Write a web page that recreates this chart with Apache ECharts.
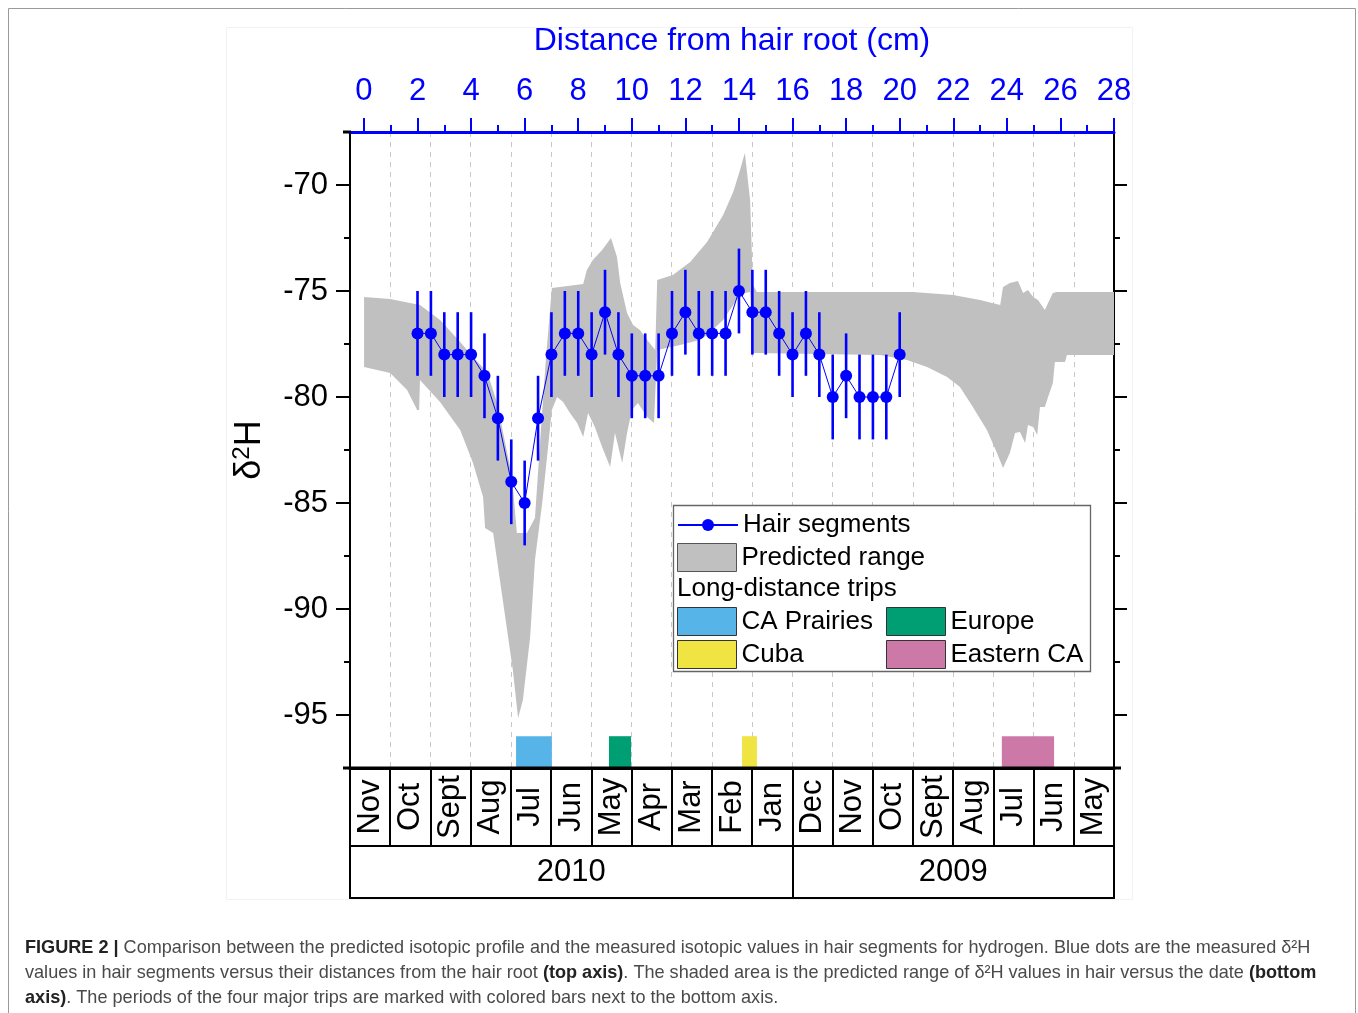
<!DOCTYPE html>
<html>
<head>
<meta charset="utf-8">
<title>Hair segment δ2H profile</title>
<script src="https://cdn.jsdelivr.net/npm/echarts@6/dist/echarts.min.js"></script>
<style>
  html, body { margin: 0; padding: 0; background: #fff; }
  #chart { width: 1358px; height: 1013px; }
</style>
</head>
<body>
<div id="chart"></div>
<script>
// Measured hair segments: distance from root (cm), δ2H and uncertainty
const distances = [2, 2.5, 3, 3.5, 4, 4.5, 5, 5.5, 6, 6.5, 7, 7.5, 8, 8.5, 9, 9.5, 10, 10.5, 11,
  11.5, 12, 12.5, 13, 13.5, 14, 14.5, 15, 15.5, 16, 16.5, 17, 17.5, 18, 18.5, 19, 19.5, 20];
const d2H = [-77, -77, -78, -78, -78, -79, -81, -84, -85, -81, -78, -77, -77, -78, -76, -78, -79, -79, -79,
  -77, -76, -77, -77, -77, -75, -76, -76, -77, -78, -77, -78, -80, -79, -80, -80, -80, -78];
const errors = [2, 2, 2, 2, 2, 2, 2, 2, 2, 2, 2, 2, 2, 2, 2, 2, 2, 2, 2,
  2, 2, 2, 2, 2, 2, 2, 2, 2, 2, 2, 2, 2, 2, 2, 2, 2, 2];

// Predicted range (months back from end of Nov 2010)
const upperX = [0.35, 1.0, 1.74, 2.24, 2.74, 3.06, 3.41, 3.66, 3.86, 4.03, 4.15, 4.40, 4.60, 4.73, 4.87, 5.02,
  5.80, 5.89, 6.04, 6.27, 6.49, 6.64, 6.72, 6.89, 7.04, 7.21, 7.39, 7.59, 7.64, 8.03, 8.46, 8.88, 9.28, 9.53,
  9.70, 9.82, 9.95, 10.02, 10.12, 14.0, 15.0, 15.67, 16.17, 16.24, 16.41, 16.61, 16.74, 16.86, 16.99, 17.11,
  17.28, 17.36, 17.48, 17.58, 19.0];
const upperY = [-75.28, -75.38, -75.66, -76.37, -77.41, -78.11, -78.82, -80.28, -82.17, -83.77, -86.42, -86.42,
  -85.71, -82.03, -78.25, -74.86, -74.67, -74.01, -73.54, -73.07, -72.5, -73.4, -74.62, -76.04, -76.6, -76.84,
  -77.31, -77.78, -74.48, -74.25, -73.63, -72.69, -71.42, -70.33, -69.29, -68.49, -70.71, -74.72, -75.05,
  -75.05, -75.19, -75.42, -75.66, -74.81, -74.62, -74.53, -75.09, -74.95, -75.28, -75.42, -75.9, -75.57,
  -75.09, -75.05, -75.05];
const lowerX = [0.35, 1.0, 1.42, 1.67, 1.72, 1.74, 2.24, 2.74, 3.06, 3.31, 3.36, 3.56, 3.81, 4.05, 4.18, 4.30,
  4.48, 4.60, 4.78, 4.90, 5.02, 5.15, 5.30, 5.47, 5.65, 5.80, 5.92, 6.09, 6.27, 6.47, 6.59, 6.77, 6.89, 7.01,
  7.16, 7.39, 7.56, 7.64, 8.21, 8.70, 8.88, 9.28, 9.53, 9.70, 9.95, 10.02, 13.18, 13.85, 14.35, 14.85, 15.17,
  15.49, 15.84, 16.09, 16.24, 16.41, 16.54, 16.66, 16.79, 16.86, 16.99, 17.09, 17.16, 17.28, 17.36, 17.48,
  17.53, 17.78, 17.83, 19.0];
const lowerY = [-78.58, -78.87, -79.67, -80.61, -80.61, -79.2, -80.24, -81.56, -83.11, -84.72, -86.18, -86.42,
  -89.72, -92.88, -95.14, -94.29, -91.32, -87.69, -85.0, -82.83, -80.61, -80.0, -80.24, -80.75, -81.23, -81.89,
  -80.75, -81.42, -82.36, -83.3, -81.7, -83.11, -81.7, -80.61, -80.28, -80.94, -81.23, -77.78, -77.55, -77.31,
  -77.08, -76.37, -75.66, -75.14, -75.05, -77.92, -78.02, -78.25, -78.58, -79.06, -79.53, -80.47, -81.56,
  -82.64, -83.35, -82.64, -81.7, -81.65, -82.17, -81.32, -81.42, -81.79, -80.47, -80.47, -80.0, -79.34, -78.35,
  -78.35, -78.02, -78.02];

// Long-distance trips (same month scale)
const tripNames = ['CA Prairies', 'Europe', 'Cuba', 'Eastern CA'];
const tripStart = [4.13, 6.44, 9.75, 16.21];
const tripEnd = [5.02, 6.99, 10.12, 17.51];
const tripColors = ['#56b4e9', '#009e73', '#f0e442', '#cc79a7'];

// Date axis labels
const months = ['Nov', 'Oct', 'Sept', 'Aug', 'Jul', 'Jun', 'May', 'Apr', 'Mar', 'Feb', 'Jan',
  'Dec', 'Nov', 'Oct', 'Sept', 'Aug', 'Jul', 'Jun', 'May'];
const years = ['2010', '2009'];
const yearCenters = [5.5, 15];
const yearBreaks = [11];

// Tick values
const cmMajor = [0, 2, 4, 6, 8, 10, 12, 14, 16, 18, 20, 22, 24, 26, 28];
const cmMinor = [1, 3, 5, 7, 9, 11, 13, 15, 17, 19, 21, 23, 25, 27];
const yMajor = [-95, -90, -85, -80, -75, -70];
const yMinor = [-92.5, -87.5, -82.5, -77.5, -72.5];

const FONT = '"Liberation Sans", Arial, sans-serif';
const BLUE = '#0000ff';
const Y_MIN = -97.5, Y_MAX = -67.5;
const CM_MIN = -0.52, CM_MAX = 28;

const chart = echarts.init(document.getElementById('chart'), null, { renderer: 'canvas' });

const plotGrid = { left: 350, top: 132, width: 764, height: 636, outerBoundsMode: 'none' };
const monthGrid = { left: 350, top: 768, width: 764, height: 78, outerBoundsMode: 'none' };
const yearGrid = { left: 350, top: 846, width: 764, height: 52, outerBoundsMode: 'none' };

function hiddenParts() {
  return { axisLabel: { show: false }, axisTick: { show: false }, splitLine: { show: false } };
}

const xAxes = [
  // top distance axis: line, major ticks, labels and name
  {
    gridIndex: 0, type: 'value', position: 'top', min: CM_MIN, max: CM_MAX,
    name: 'Distance from hair root (cm)', nameLocation: 'middle', nameGap: 75,
    nameTextStyle: { color: BLUE, fontSize: 32, fontFamily: FONT },
    axisLine: { show: true, onZero: false, lineStyle: { color: BLUE, width: 3 } },
    axisTick: { show: true, length: 14, customValues: cmMajor, lineStyle: { color: BLUE, width: 2 } },
    axisLabel: { show: true, customValues: cmMajor, color: BLUE, fontSize: 31, fontFamily: FONT, margin: 25 },
    splitLine: { show: false }
  },
  // top distance axis: minor ticks
  {
    gridIndex: 0, type: 'value', position: 'top', min: CM_MIN, max: CM_MAX,
    axisLine: { show: false, onZero: false },
    axisTick: { show: true, length: 7, customValues: cmMinor, lineStyle: { color: BLUE, width: 2 } },
    axisLabel: { show: false }, splitLine: { show: false }
  },
  // month scale inside the plot (bottom line + dashed month boundaries)
  {
    gridIndex: 0, type: 'value', position: 'bottom', min: 0, max: 19, interval: 1,
    axisLine: { show: true, onZero: false, lineStyle: { color: '#000', width: 3 } },
    axisTick: { show: false }, axisLabel: { show: false },
    splitLine: { show: true, lineStyle: { color: '#c8c8c8', width: 1, type: [5, 5] } }
  },
  // month cells
  {
    gridIndex: 1, type: 'value', position: 'bottom', min: 0, max: 19, interval: 1,
    axisLine: { show: true, onZero: false, lineStyle: { color: '#000', width: 2 } },
    axisTick: { show: false }, axisLabel: { show: false },
    splitLine: { show: true, lineStyle: { color: '#000', width: 2 } }
  },
  // year cells
  {
    gridIndex: 2, type: 'value', position: 'bottom', min: 0, max: 19,
    axisLine: { show: true, onZero: false, lineStyle: { color: '#000', width: 2 } },
    ...hiddenParts()
  }
];

const yAxes = [
  // left δ2H axis with labels
  {
    gridIndex: 0, type: 'value', position: 'left', min: Y_MIN, max: Y_MAX,
    name: '{d|δ}{s|2}{d|H}', nameLocation: 'middle', nameGap: 80, nameRotate: 90,
    nameTextStyle: {
      fontFamily: FONT,
      rich: {
        d: { fontSize: 36, fontFamily: FONT, color: '#000', lineHeight: 40 },
        s: { fontSize: 24, fontFamily: FONT, color: '#000', verticalAlign: 'top', lineHeight: 40, padding: [0, 0, 16, 0] }
      }
    },
    axisLine: { show: true, onZero: false, lineStyle: { color: '#000', width: 2 } },
    axisTick: { show: true, length: 14, customValues: yMajor, lineStyle: { color: '#000', width: 2 } },
    axisLabel: { show: true, customValues: yMajor, color: '#000', fontSize: 31, fontFamily: FONT, margin: 22 },
    splitLine: { show: false }
  },
  // left minor ticks
  {
    gridIndex: 0, type: 'value', position: 'left', min: Y_MIN, max: Y_MAX,
    axisLine: { show: false, onZero: false },
    axisTick: { show: true, length: 6, customValues: yMinor, lineStyle: { color: '#000', width: 2 } },
    axisLabel: { show: false }, splitLine: { show: false }
  },
  // right frame with major ticks
  {
    gridIndex: 0, type: 'value', position: 'right', min: Y_MIN, max: Y_MAX,
    axisLine: { show: true, onZero: false, lineStyle: { color: '#000', width: 2 } },
    axisTick: { show: true, length: 13, customValues: yMajor, lineStyle: { color: '#000', width: 2 } },
    axisLabel: { show: false }, splitLine: { show: false }
  },
  // right minor ticks
  {
    gridIndex: 0, type: 'value', position: 'right', min: Y_MIN, max: Y_MAX,
    axisLine: { show: false, onZero: false },
    axisTick: { show: true, length: 6, customValues: yMinor, lineStyle: { color: '#000', width: 2 } },
    axisLabel: { show: false }, splitLine: { show: false }
  },
  // month cells: left and right borders
  {
    gridIndex: 1, type: 'value', position: 'left', min: 0, max: 1,
    axisLine: { show: true, onZero: false, lineStyle: { color: '#000', width: 2 } }, ...hiddenParts()
  },
  {
    gridIndex: 1, type: 'value', position: 'right', min: 0, max: 1,
    axisLine: { show: true, onZero: false, lineStyle: { color: '#000', width: 2 } }, ...hiddenParts()
  },
  // year cells: left and right borders
  {
    gridIndex: 2, type: 'value', position: 'left', min: 0, max: 1,
    axisLine: { show: true, onZero: false, lineStyle: { color: '#000', width: 2 } }, ...hiddenParts()
  },
  {
    gridIndex: 2, type: 'value', position: 'right', min: 0, max: 1,
    axisLine: { show: true, onZero: false, lineStyle: { color: '#000', width: 2 } }, ...hiddenParts()
  }
];

const series = [];

// Predicted range as a filled polygon on the month scale
series.push({
  name: 'Predicted range',
  type: 'custom',
  xAxisIndex: 2, yAxisIndex: 0,
  silent: true,
  z: 1,
  itemStyle: { color: '#c0c0c0' },
  data: [[upperX[0], upperY[0]]],
  renderItem: function (params, api) {
    const pts = [];
    for (let i = 0; i < upperX.length; i++) pts.push(api.coord([upperX[i], upperY[i]]));
    for (let i = lowerX.length - 1; i >= 0; i--) pts.push(api.coord([lowerX[i], lowerY[i]]));
    return { type: 'polygon', shape: { points: pts }, style: { fill: '#c0c0c0' } };
  }
});

// Trip periods as bars along the bottom of the plot
tripNames.forEach(function (name, k) {
  series.push({
    name: name,
    type: 'custom',
    xAxisIndex: 2, yAxisIndex: 0,
    silent: true,
    z: 2,
    itemStyle: { color: tripColors[k] },
    encode: { x: [0, 1], y: [2, 3] },
    data: [[tripStart[k], tripEnd[k], Y_MIN, -96]],
    renderItem: function (params, api) {
      const p0 = api.coord([api.value(0), api.value(3)]);
      const p1 = api.coord([api.value(1), api.value(2)]);
      return {
        type: 'rect',
        shape: { x: p0[0], y: p0[1], width: p1[0] - p0[0], height: p1[1] - p0[1] },
        style: { fill: tripColors[k] }
      };
    }
  });
});

// Error bars of the measured segments
series.push({
  name: 'Uncertainty',
  type: 'custom',
  xAxisIndex: 0, yAxisIndex: 0,
  silent: true,
  z: 3,
  encode: { x: 0, y: 1 },
  data: distances.map(function (d, i) { return [d, d2H[i], errors[i]]; }),
  renderItem: function (params, api) {
    const x = api.value(0), y = api.value(1), e = api.value(2);
    const a = api.coord([x, y + e]);
    const b = api.coord([x, y - e]);
    return {
      type: 'line',
      shape: { x1: a[0], y1: a[1], x2: b[0], y2: b[1] },
      style: { stroke: BLUE, lineWidth: 2.6 }
    };
  }
});

// Measured segments
series.push({
  name: 'Hair segments',
  type: 'line',
  xAxisIndex: 0, yAxisIndex: 0,
  z: 4,
  symbol: 'circle',
  symbolSize: 12,
  itemStyle: { color: BLUE },
  lineStyle: { color: BLUE, width: 1 },
  data: distances.map(function (d, i) { return [d, d2H[i]]; })
});

const cellLabel = {
  show: true, position: 'inside', formatter: '{b}', opacity: 1,
  color: '#000', fontSize: 31, fontFamily: FONT, align: 'center', verticalAlign: 'middle',
  textBorderWidth: 0
};

// Month names in their cells
series.push({
  name: 'Months',
  type: 'scatter',
  xAxisIndex: 3, yAxisIndex: 4,
  silent: true,
  symbolSize: 0,
  itemStyle: { opacity: 1, color: '#000' },
  data: months.map(function (m, i) { return { name: m, value: [i + 0.5, 0.5] }; }),
  label: Object.assign({}, cellLabel, { rotate: 90 })
});

// Year names with the divider between them
series.push({
  name: 'Years',
  type: 'scatter',
  xAxisIndex: 4, yAxisIndex: 6,
  silent: true,
  symbolSize: 0,
  itemStyle: { opacity: 1, color: '#000' },
  data: years.map(function (y, i) { return { name: y, value: [yearCenters[i], 0.5] }; }),
  label: cellLabel,
  markLine: {
    silent: true, symbol: 'none', animation: false,
    label: { show: false },
    lineStyle: { color: '#000', width: 2, type: 'solid', opacity: 1 },
    data: yearBreaks.map(function (v) { return { xAxis: v }; })
  }
});

const legendText = { color: '#000', fontSize: 26, fontFamily: FONT, lineHeight: 28 };
const iconBorder = { borderColor: '#333', borderWidth: 1 };

const option = {
  animation: false,
  backgroundColor: '#fff',
  textStyle: { fontFamily: FONT },
  grid: [plotGrid, monthGrid, yearGrid],
  xAxis: xAxes,
  yAxis: yAxes,
  legend: [
    {
      data: ['Hair segments'], left: 677, top: 511, orient: 'vertical', padding: 0,
      itemWidth: 60, itemHeight: 15, itemGap: 4, textStyle: legendText, selectedMode: false
    },
    {
      data: [{ name: 'Predicted range', icon: 'rect', itemStyle: { borderColor: '#555', borderWidth: 1 } }],
      left: 677, top: 543, orient: 'vertical', padding: 0,
      itemWidth: 59, itemHeight: 28, itemGap: 4, textStyle: legendText, selectedMode: false
    },
    {
      data: [
        { name: 'CA Prairies', icon: 'rect', itemStyle: iconBorder },
        { name: 'Cuba', icon: 'rect', itemStyle: iconBorder }
      ],
      left: 677, top: 607, orient: 'vertical', padding: 0,
      itemWidth: 59, itemHeight: 28, itemGap: 4, textStyle: legendText, selectedMode: false
    },
    {
      data: [
        { name: 'Europe', icon: 'rect', itemStyle: iconBorder },
        { name: 'Eastern CA', icon: 'rect', itemStyle: iconBorder }
      ],
      left: 886, top: 607, orient: 'vertical', padding: 0,
      itemWidth: 59, itemHeight: 28, itemGap: 4, textStyle: legendText, selectedMode: false
    }
  ],
  graphic: [
    // outer figure frame and faint chart panel
    { type: 'rect', z: 0, silent: true, shape: { x: 8.5, y: 8.5, width: 1347, height: 1030 },
      style: { fill: 'none', stroke: '#9a9a9a', lineWidth: 1 } },
    { type: 'rect', z: 0, silent: true, shape: { x: 226.5, y: 27.5, width: 906, height: 872 },
      style: { fill: 'none', stroke: '#f2f2f2', lineWidth: 1 } },
    // short extensions of the top and bottom frame lines
    { type: 'line', z: 5, silent: true, shape: { x1: 343, y1: 132, x2: 351, y2: 132 },
      style: { stroke: '#000', lineWidth: 3 } },
    { type: 'line', z: 5, silent: true, shape: { x1: 343, y1: 768, x2: 1121, y2: 768 },
      style: { stroke: '#000', lineWidth: 3 } },
    // legend frame
    { type: 'rect', z: 3, silent: true, shape: { x: 673.5, y: 505.5, width: 417, height: 166 },
      style: { fill: '#fff', stroke: '#666', lineWidth: 1.3 } },
    { type: 'text', z: 5, silent: true, left: 677, top: 576,
      style: { text: 'Long-distance trips', fill: '#000', font: '26px ' + FONT } },
    // caption
    {
      type: 'text', z: 5, silent: true, left: 25, top: 935,
      style: {
        text:
          '{b|FIGURE 2 |} Comparison between the predicted isotopic profile and the measured isotopic values in hair segments for hydrogen. Blue dots are the measured δ²H\n' +
          'values in hair segments versus their distances from the hair root {b|(top axis)}. The shaded area is the predicted range of δ²H values in hair versus the date {b|(bottom}\n' +
          '{b|axis)}. The periods of the four major trips are marked with colored bars next to the bottom axis.',
        fill: '#4a4a4a',
        font: '18.1px ' + FONT,
        lineHeight: 25,
        rich: {
          b: { fontWeight: 'bold', fill: '#222', fontSize: 18.1, fontFamily: FONT, lineHeight: 25 }
        }
      }
    }
  ],
  series: series
};

chart.setOption(option);
</script>
</body>
</html>
